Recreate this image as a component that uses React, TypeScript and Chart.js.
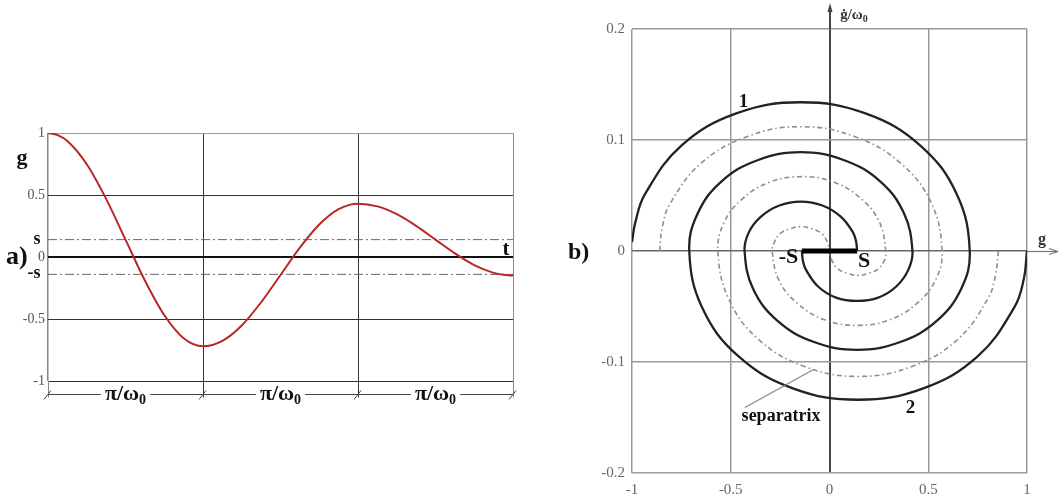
import React, { useEffect, useRef } from 'react';
import { Chart, registerables } from 'chart.js';

Chart.register(...registerables);

const SERIF = '"Liberation Serif", "Times New Roman", serif';

// ---------- panel a): g(t), t in units of π/ω0 ----------
const tHalfPeriods = [
  0, 0.0625, 0.125, 0.25, 0.375, 0.5, 0.625, 0.75, 0.875,
  1, 1.125, 1.25, 1.375, 1.5, 1.625, 1.75, 1.875,
  2, 2.125, 2.25, 2.375, 2.5, 2.625, 2.75, 2.875, 2.9375, 3,
];
const gResponse = [
  1.0, 0.983, 0.935, 0.748, 0.469, 0.14, -0.189, -0.468, -0.655,
  -0.72, -0.676, -0.552, -0.365, -0.145, 0.075, 0.262, 0.386,
  0.43, 0.408, 0.345, 0.251, 0.14, 0.029, -0.065, -0.128, -0.144, -0.15,
];
const sLevel = 0.14;
const tGridA = [0, 1, 2, 3];
const gTicksA = [-1, -0.5, 0, 0.5, 1];

// ---------- panel b): phase plane g – ġ/ω0 ----------
const traj1G = [
  -1.0, -0.983, -0.935, -0.75, -0.472, -0.145, 0.182, 0.46, 0.645,
  0.71, 0.667, 0.543, 0.358, 0.14, -0.078, -0.263, -0.387,
  -0.43, -0.408, -0.347, -0.254, -0.145, -0.036, 0.057, 0.118, 0.1345, 0.14,
];
const traj1V = [
  0.008, 0.026, 0.051, 0.095, 0.124, 0.134, 0.124, 0.095, 0.051,
  0, -0.034, -0.063, -0.082, -0.089, -0.082, -0.063, -0.034,
  0, 0.017, 0.031, 0.041, 0.0445, 0.041, 0.031, 0.017, 0.0087, 0,
];
const traj2G = [
  1.0, 0.983, 0.935, 0.75, 0.472, 0.145, -0.182, -0.46, -0.645,
  -0.71, -0.667, -0.545, -0.361, -0.145, 0.071, 0.255, 0.377,
  0.42, 0.399, 0.338, 0.247, 0.14, 0.033, -0.058, -0.119, -0.1346, -0.14,
];
const traj2V = [
  0, -0.026, -0.051, -0.095, -0.124, -0.134, -0.124, -0.095, -0.051,
  0, 0.034, 0.063, 0.082, 0.089, 0.082, 0.063, 0.034,
  0, -0.017, -0.032, -0.042, -0.045, -0.042, -0.032, -0.017, -0.0088, 0,
];
const sepAG = [
  -0.86, -0.846, -0.806, -0.651, -0.419, -0.145, 0.129, 0.361, 0.516,
  0.57, 0.537, 0.444, 0.305, 0.14, -0.025, -0.164, -0.257,
  -0.29, -0.279, -0.248, -0.2, -0.145, -0.09, -0.042, -0.011, 0,
];
const sepAV = [
  0, 0.022, 0.043, 0.079, 0.103, 0.112, 0.103, 0.079, 0.043,
  0, -0.026, -0.047, -0.062, -0.067, -0.062, -0.047, -0.026,
  0, 0.008, 0.016, 0.02, 0.022, 0.02, 0.016, 0.008, 0,
];
const sepBG = [
  0.855, 0.84, 0.802, 0.647, 0.417, 0.145, -0.127, -0.357, -0.511,
  -0.565, -0.533, -0.441, -0.303, -0.14, 0.023, 0.161, 0.253,
  0.285, 0.279, 0.248, 0.2, 0.145, 0.09, 0.042, 0.011, 0,
];
const sepBV = [
  0, -0.022, -0.043, -0.08, -0.104, -0.113, -0.104, -0.08, -0.043,
  0, 0.026, 0.047, 0.062, 0.067, 0.062, 0.047, 0.026,
  0, -0.008, -0.016, -0.02, -0.022, -0.02, -0.016, -0.008, 0,
];
const deadZone = [-0.14, 0.14];
const gTicksB = [-1, -0.5, 0, 0.5, 1];
const vTicksB = [-0.2, -0.1, 0, 0.1, 0.2];

const pts = (xs: number[], ys: number[]) => xs.map((x, i) => ({ x, y: ys[i] }));

function line(ctx: CanvasRenderingContext2D, x1: number, y1: number, x2: number, y2: number) {
  ctx.beginPath();
  ctx.moveTo(x1, y1);
  ctx.lineTo(x2, y2);
  ctx.stroke();
}

// text with a small lowered subscript, e.g. π/ω₀
function subText(
  ctx: CanvasRenderingContext2D, main: string, sub: string, cx: number, cy: number,
  size: number, subSize: number, bold: boolean, color: string, bg?: string,
) {
  const w = bold ? 'bold ' : '';
  ctx.font = `${w}${size}px ${SERIF}`;
  const w1 = ctx.measureText(main).width;
  ctx.font = `${w}${subSize}px ${SERIF}`;
  const w2 = ctx.measureText(sub).width;
  const x0 = cx - (w1 + w2) / 2;
  if (bg) {
    ctx.fillStyle = bg;
    ctx.fillRect(x0 - 4, cy - size * 0.45, w1 + w2 + 8, size * 0.9);
  }
  ctx.fillStyle = color;
  ctx.textAlign = 'left';
  ctx.textBaseline = 'alphabetic';
  ctx.font = `${w}${size}px ${SERIF}`;
  ctx.fillText(main, x0, cy + size * 0.25);
  ctx.font = `${w}${subSize}px ${SERIF}`;
  ctx.fillText(sub, x0 + w1, cy + size * 0.25 + subSize * 0.3);
}

const panelAOverlay = {
  id: 'panelAOverlay',
  afterDraw(chart: any) {
    const { ctx, chartArea } = chart;
    const x = chart.scales.x;
    const y = chart.scales.y;
    const bottom = y.getPixelForValue(-1);
    const dimY = Math.round(bottom + 13) + 0.5;
    ctx.save();
    // extension lines from the plot down to the dimension line
    tGridA.forEach((v) => {
      const px = Math.round(x.getPixelForValue(v)) + 0.5;
      ctx.strokeStyle = v === 0 || v === 3 ? '#888' : '#333';
      ctx.lineWidth = 1;
      line(ctx, px, bottom, px, dimY + 3);
    });
    ctx.strokeStyle = '#444';
    line(ctx, x.getPixelForValue(0), dimY, x.getPixelForValue(3), dimY);
    // slash marks at the interval limits
    tGridA.forEach((v) => {
      const px = x.getPixelForValue(v);
      line(ctx, px - 4, dimY + 5, px + 3, dimY - 4);
    });
    // half-period labels
    for (let i = 0; i < 3; i++) {
      const cx = (x.getPixelForValue(tGridA[i]) + x.getPixelForValue(tGridA[i + 1])) / 2;
      subText(ctx, 'π/ω', '0', cx, dimY, 22, 14, true, '#111', '#fff');
    }
    ctx.fillStyle = '#111';
    ctx.textAlign = 'center';
    ctx.textBaseline = 'alphabetic';
    ctx.font = `bold 22px ${SERIF}`;
    ctx.fillText('g', chartArea.left - 26, y.getPixelForValue(0.75));
    ctx.font = `bold 18px ${SERIF}`;
    ctx.fillText('s', chartArea.left - 11, y.getPixelForValue(sLevel) + 4);
    ctx.fillText('-s', chartArea.left - 14, y.getPixelForValue(-sLevel) + 4);
    ctx.font = `bold 21px ${SERIF}`;
    ctx.fillText('t', chartArea.right - 7, y.getPixelForValue(0) - 2);
    ctx.textAlign = 'left';
    ctx.font = `bold 26px ${SERIF}`;
    ctx.fillText('a)', chartArea.left - 42, y.getPixelForValue(0) + 7);
    ctx.restore();
  },
};

const panelBOverlay = {
  id: 'panelBOverlay',
  afterDraw(chart: any) {
    const { ctx, chartArea } = chart;
    const x = chart.scales.x;
    const y = chart.scales.y;
    const x0 = Math.round(x.getPixelForValue(0));
    const y0 = Math.round(y.getPixelForValue(0)) + 0.5;
    ctx.save();
    // vertical axis continues above the frame with an arrow
    ctx.strokeStyle = '#444';
    ctx.lineWidth = 2;
    line(ctx, x0, chartArea.top, x0, 9);
    ctx.fillStyle = '#444';
    ctx.beginPath();
    ctx.moveTo(x0, 3);
    ctx.lineTo(x0 - 2.5, 12);
    ctx.lineTo(x0 + 2.5, 12);
    ctx.closePath();
    ctx.fill();
    // horizontal axis continues past the frame with an arrow
    ctx.strokeStyle = '#777';
    ctx.lineWidth = 1.2;
    line(ctx, chartArea.right, y0, chartArea.right + 31, y0);
    line(ctx, chartArea.right + 31, y0, chartArea.right + 22, y0 - 3);
    line(ctx, chartArea.right + 31, y0, chartArea.right + 22, y0 + 3);

    // axis names
    subText(ctx, 'ġ/ω', '0', x0 + 24, 15, 15, 10, true, '#333');
    ctx.fillStyle = '#333';
    ctx.textAlign = 'center';
    ctx.textBaseline = 'alphabetic';
    ctx.font = `bold 16px ${SERIF}`;
    ctx.fillText('g', chartArea.right + 15, y0 - 8);

    // panel letter
    ctx.fillStyle = '#111';
    ctx.textAlign = 'left';
    ctx.font = `bold 24px ${SERIF}`;
    ctx.fillText('b)', chartArea.left - 64, y0 + 7);

    // dead-zone ends
    ctx.font = `bold 22px ${SERIF}`;
    ctx.textAlign = 'right';
    ctx.fillText('-S', x.getPixelForValue(-0.158), y0 + 11);
    ctx.textAlign = 'center';
    ctx.fillText('S', x.getPixelForValue(0.175), y0 + 15);

    // trajectory numbers
    ctx.font = `bold 19px ${SERIF}`;
    ctx.fillText('1', x.getPixelForValue(-0.435), y.getPixelForValue(0.13));
    ctx.fillText('2', x.getPixelForValue(0.41), y.getPixelForValue(-0.146));

    // separatrix label and leader
    ctx.font = `bold 18px ${SERIF}`;
    ctx.fillText('separatrix', x.getPixelForValue(-0.245), y.getPixelForValue(-0.153));
    ctx.strokeStyle = '#888';
    ctx.lineWidth = 1.2;
    line(ctx, x.getPixelForValue(-0.428), y.getPixelForValue(-0.141),
      x.getPixelForValue(-0.083), y.getPixelForValue(-0.107));
    ctx.restore();
  },
};

export default function App() {
  const aRef = useRef<HTMLCanvasElement>(null);
  const bRef = useRef<HTMLCanvasElement>(null);

  useEffect(() => {
    const chartA = new Chart(aRef.current!, {
      type: 'scatter',
      data: {
        datasets: [
          {
            data: pts(tHalfPeriods, gResponse),
            showLine: true,
            borderColor: 'rgb(185,38,38)',
            borderWidth: 2,
            pointRadius: 0,
            cubicInterpolationMode: 'monotone',
          } as any,
          {
            data: [{ x: 0, y: sLevel }, { x: 3, y: sLevel }],
            showLine: true,
            borderColor: '#666',
            borderWidth: 1,
            borderDash: [9, 3, 2, 3],
            pointRadius: 0,
          },
          {
            data: [{ x: 0, y: -sLevel }, { x: 3, y: -sLevel }],
            showLine: true,
            borderColor: '#666',
            borderWidth: 1,
            borderDash: [9, 3, 2, 3],
            pointRadius: 0,
          },
        ],
      },
      options: {
        responsive: false,
        animation: false,
        devicePixelRatio: 1,
        events: [],
        layout: { padding: { left: 0, right: 47, top: 133, bottom: 118 } },
        plugins: { legend: { display: false }, tooltip: { enabled: false } },
        scales: {
          x: {
            type: 'linear',
            min: 0,
            max: 3,
            afterBuildTicks: (s: any) => { s.ticks = tGridA.map((v) => ({ value: v })); },
            afterFit: (s: any) => { s.height = 0; },
            ticks: { display: false },
            border: { display: false },
            grid: {
              drawTicks: false,
              color: (c: any) => (c.tick.value === 0 || c.tick.value === 3 ? '#888' : '#333'),
              lineWidth: (c: any) => (c.tick.value === 0 ? 1.5 : 1),
            },
          },
          y: {
            type: 'linear',
            min: -1,
            max: 1,
            afterBuildTicks: (s: any) => { s.ticks = gTicksA.map((v) => ({ value: v })); },
            afterFit: (s: any) => { s.width = 48; },
            border: { display: false },
            ticks: {
              color: '#555',
              padding: 3,
              font: { family: SERIF, size: 14 },
              callback: (v: any) => String(v),
            },
            grid: {
              drawTicks: false,
              color: (c: any) => (c.tick.value === 1 ? '#999' : c.tick.value === 0 ? '#111' : '#333'),
              lineWidth: (c: any) => (c.tick.value === 0 ? 2 : 1),
            },
          },
        },
      },
      plugins: [panelAOverlay],
    });

    const chartB = new Chart(bRef.current!, {
      type: 'scatter',
      data: {
        datasets: [
          {
            data: [{ x: deadZone[0], y: 0 }, { x: deadZone[1], y: 0 }],
            showLine: true,
            borderColor: '#000',
            borderWidth: 5,
            pointRadius: 0,
            borderCapStyle: 'butt',
          },
          {
            data: pts(traj1G, traj1V),
            showLine: true,
            borderColor: '#222',
            borderWidth: 2.3,
            pointRadius: 0,
            tension: 0.4,
          },
          {
            data: pts(traj2G, traj2V),
            showLine: true,
            borderColor: '#222',
            borderWidth: 2.3,
            pointRadius: 0,
            tension: 0.4,
          },
          {
            data: pts(sepAG, sepAV),
            showLine: true,
            borderColor: '#8e8e8e',
            borderWidth: 1.6,
            borderDash: [5, 3, 1.5, 3],
            pointRadius: 0,
            tension: 0.4,
          },
          {
            data: pts(sepBG, sepBV),
            showLine: true,
            borderColor: '#8e8e8e',
            borderWidth: 1.6,
            borderDash: [5, 3, 1.5, 3],
            pointRadius: 0,
            tension: 0.4,
          },
        ],
      },
      options: {
        responsive: false,
        animation: false,
        devicePixelRatio: 1,
        events: [],
        layout: { padding: { left: 0, right: 36, top: 29, bottom: 0 } },
        plugins: { legend: { display: false }, tooltip: { enabled: false } },
        scales: {
          x: {
            type: 'linear',
            min: -1,
            max: 1,
            afterBuildTicks: (s: any) => { s.ticks = gTicksB.map((v) => ({ value: v })); },
            afterFit: (s: any) => { s.height = 26; },
            border: { display: false },
            ticks: {
              color: '#666',
              padding: 8,
              font: { family: SERIF, size: 15 },
              callback: (v: any) => String(v),
            },
            grid: {
              drawTicks: false,
              color: (c: any) => (c.tick.value === 0 ? '#444' : '#999'),
              lineWidth: (c: any) => (c.tick.value === 0 ? 2 : 1.5),
            },
          },
          y: {
            type: 'linear',
            min: -0.2,
            max: 0.2,
            afterBuildTicks: (s: any) => { s.ticks = vTicksB.map((v) => ({ value: v })); },
            afterFit: (s: any) => { s.width = 72; },
            border: { display: false },
            ticks: {
              color: '#666',
              padding: 7,
              font: { family: SERIF, size: 15 },
              callback: (v: any) => String(v),
            },
            grid: {
              drawTicks: false,
              color: (c: any) => (c.tick.value === 0 ? '#666' : '#999'),
              lineWidth: 1.5,
            },
          },
        },
      },
      plugins: [panelBOverlay],
    });

    return () => {
      chartA.destroy();
      chartB.destroy();
    };
  }, []);

  return (
    <div style={{ position: 'absolute', left: 0, top: 0, width: 1063, height: 499, background: '#fff', overflow: 'hidden' }}>
      <canvas ref={aRef} width={560} height={499} style={{ position: 'absolute', left: 0, top: 0, width: 560, height: 499 }} />
      <canvas ref={bRef} width={503} height={499} style={{ position: 'absolute', left: 560, top: 0, width: 503, height: 499, filter: 'blur(0.4px)' }} />
    </div>
  );
}
